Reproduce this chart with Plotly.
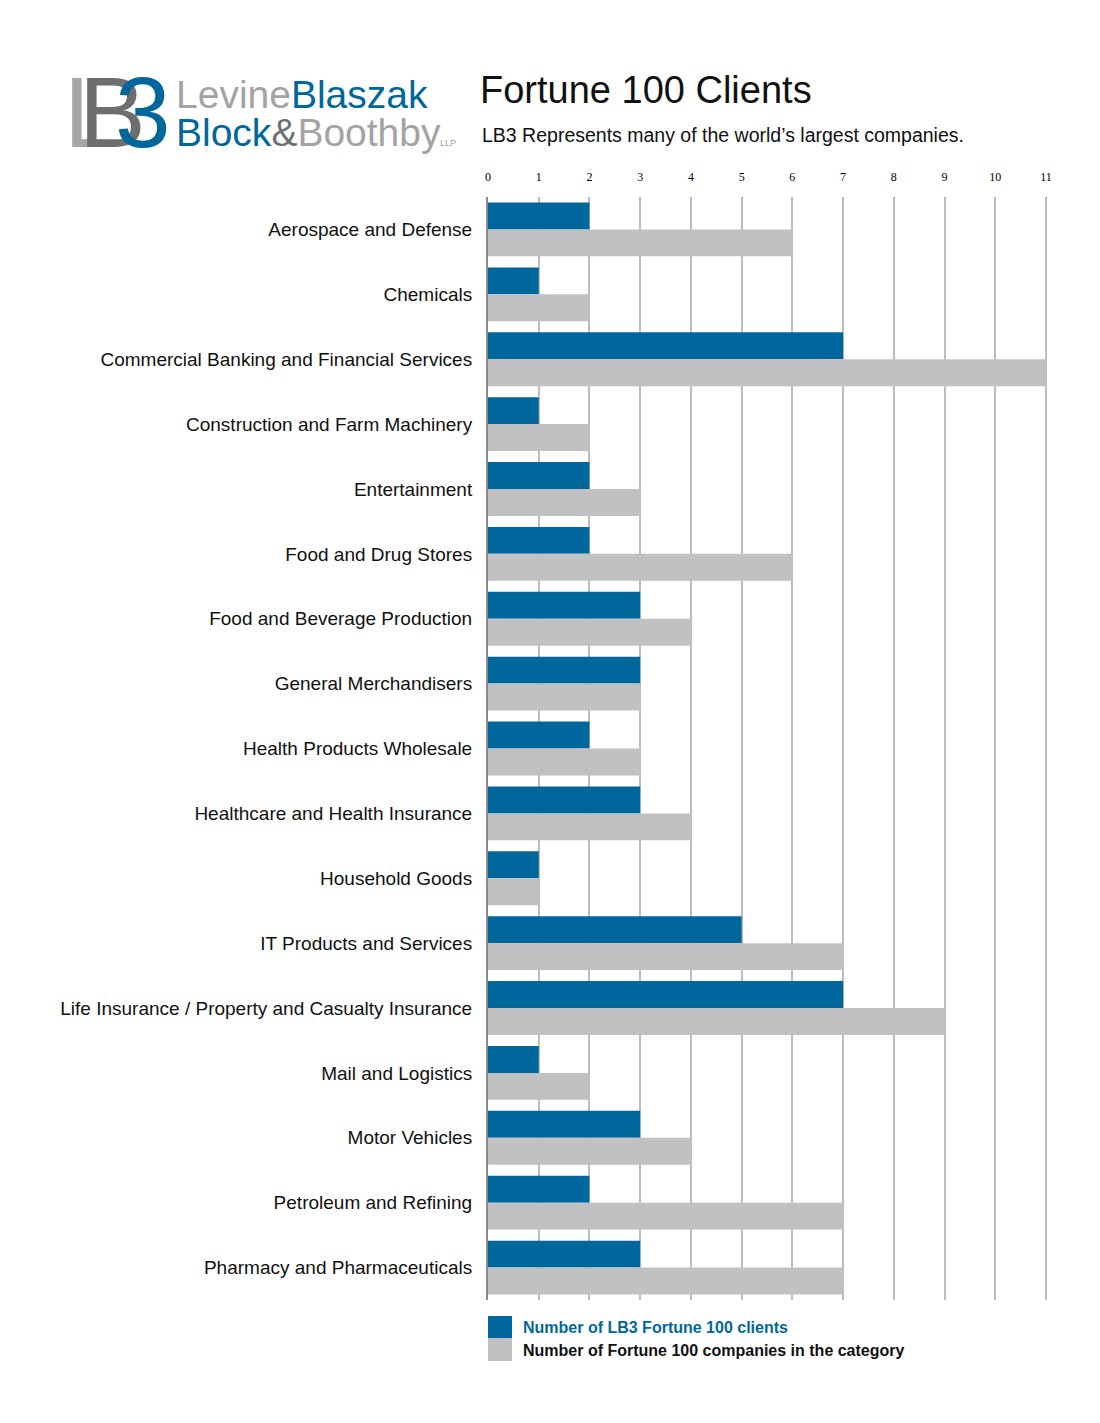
import plotly.graph_objects as go

categories = [
    "Aerospace and Defense",
    "Chemicals",
    "Commercial Banking and Financial Services",
    "Construction and Farm Machinery",
    "Entertainment",
    "Food and Drug Stores",
    "Food and Beverage Production",
    "General Merchandisers",
    "Health Products Wholesale",
    "Healthcare and Health Insurance",
    "Household Goods",
    "IT Products and Services",
    "Life Insurance / Property and Casualty Insurance",
    "Mail and Logistics",
    "Motor Vehicles",
    "Petroleum and Refining",
    "Pharmacy and Pharmaceuticals",
]
lb3_clients = [2, 1, 7, 1, 2, 2, 3, 3, 2, 3, 1, 5, 7, 1, 3, 2, 3]
category_total = [6, 2, 11, 2, 3, 6, 4, 3, 3, 4, 1, 7, 9, 2, 4, 7, 7]
tick_values = list(range(0, 12))

BLUE = "#00679c"
GRAY = "#c1c0c2"

fig = go.Figure()
fig.add_trace(go.Bar(
    y=categories, x=lb3_clients, orientation="h",
    name="Number of LB3 Fortune 100 clients",
    marker=dict(color=BLUE, line=dict(width=0)),
))
fig.add_trace(go.Bar(
    y=categories, x=category_total, orientation="h",
    name="Number of Fortune 100 companies in the category",
    marker=dict(color=GRAY, line=dict(width=0)),
))

W, H = 1100, 1423
OFF = 8  # page body margin
# desired plot area in screen pixels
SL, SR, ST, SB = 488, 1047, 197, 1300

fig.update_layout(
    width=W, height=H,
    margin=dict(l=SL - OFF, r=W - (SR - OFF), t=ST - OFF, b=H - (SB - OFF)),
    paper_bgcolor="white", plot_bgcolor="white",
    barmode="group", bargap=0.17, bargroupgap=0,
    showlegend=False,
    font=dict(family="Liberation Sans, Arial", color="#111"),
)
fig.update_xaxes(
    range=[0, 11.02], side="top", tickvals=tick_values,
    showgrid=True, gridcolor="#bdbdbd", gridwidth=2,
    zeroline=False, showline=False, ticks="", ticklabelstandoff=13,
    tickfont=dict(family="Liberation Serif", size=12, color="#000000"),
    fixedrange=True,
)
fig.update_yaxes(
    autorange="reversed", showgrid=False, zeroline=False,
    showline=True, linecolor="#8a8a8a", linewidth=2,
    ticks="", ticklabelstandoff=10,
    tickfont=dict(family="Liberation Sans", size=19, color="#111"),
)


def px(x):
    return (x - SL) / (SR - SL)


def py(y):
    return (SB - y) / (SB - ST)


def text(x, y, s, size, color="#111", family="Liberation Sans"):
    return dict(x=px(x), y=py(y), xref="paper", yref="paper", xanchor="left",
                yanchor="middle", text=s, showarrow=False,
                font=dict(family=family, size=size, color=color))


ann = []
ann.append(text(478, 90, "Fortune 100 Clients", 38))
ann.append(text(480, 135, "LB3 Represents many of the world\u2019s largest companies.", 19.5))

# Logo
ann.append(text(62, 112, "L", 100, "#a7a7a9"))
ann.append(text(77, 112, "B", 100, "#6d6e70"))
ann.append(text(113, 112, "3", 100, BLUE))
ann.append(text(174, 94, "<span style='color:#a3a3a5'>Levine</span><span style='color:%s'>Blaszak</span>" % BLUE, 39))
ann.append(text(174, 132, "<span style='color:%s'>Block</span><span style='color:#6d6e70'>&amp;</span><span style='color:#a3a3a5'>Boothby</span>" % BLUE, 39))
ann.append(text(438, 143, "LLP", 9, "#a3a3a5"))

shapes = [
    dict(type="rect", xref="paper", yref="paper", x0=px(488), x1=px(512), y0=py(1338), y1=py(1316),
         fillcolor=BLUE, line=dict(width=0)),
    dict(type="rect", xref="paper", yref="paper", x0=px(488), x1=px(512), y0=py(1361), y1=py(1338),
         fillcolor=GRAY, line=dict(width=0)),
]
ann.append(text(521, 1327, "<b>Number of LB3 Fortune 100 clients</b>", 16, BLUE))
ann.append(text(521, 1350, "<b>Number of Fortune 100 companies in the category</b>", 16, "#111"))

fig.update_layout(annotations=ann, shapes=shapes)
fig.write_html("out.html")
